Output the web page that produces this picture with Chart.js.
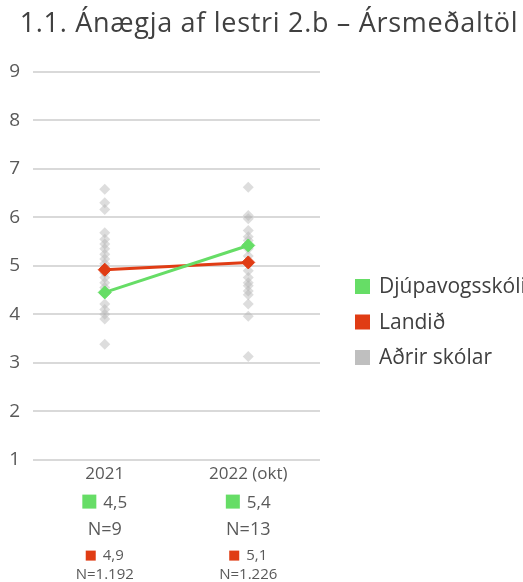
<!DOCTYPE html>
<html>
<head>
<meta charset="utf-8">
<script src="https://cdn.jsdelivr.net/npm/chart.js@4"></script>
<style>
  html, body { margin: 0; padding: 0; background: #fff; overflow: hidden; }
</style>
</head>
<body>
<canvas id="line-chart" width="523" height="582"></canvas>
<script>
const title = '1.1. Ánægja af lestri 2.b – Ársmeðaltöl';
const years = ['2021', '2022 (okt)'];
const schoolAvg = [4.45, 5.42];
const nationalAvg = [4.92, 5.07];
const others2021 = [6.58, 6.30, 6.16, 5.68, 5.55, 5.45, 5.35, 5.24, 5.14, 5.04, 4.85, 4.76, 4.65, 4.55, 4.21, 4.10, 4.00, 3.90, 3.38];
const others2022 = [6.62, 6.04, 5.97, 5.73, 5.60, 5.52, 5.35, 5.20, 4.90, 4.76, 4.65, 4.59, 4.48, 4.40, 4.21, 3.96, 3.13];
const schoolText = ['4,5', '5,4'];
const schoolN = ['N=9', 'N=13'];
const nationalText = ['4,9', '5,1'];
const nationalN = ['N=1.192', 'N=1.226'];
const seriesNames = ['Djúpavogsskóli', 'Landið', 'Aðrir skólar'];

const green = '#66dd66';
const red = '#e03c14';
const gray = '#bfbfbf';
const FONT = '"Open Sans"';

// other schools as loose points on the category axis
const otherPoints = [];
others2021.forEach(v => otherPoints.push({x: years[0], y: v}));
others2022.forEach(v => otherPoints.push({x: years[1], y: v}));

const extras = {
  id: 'extras',
  afterDraw(chart) {
    const ctx = chart.ctx;
    const xs = chart.scales.x;
    const bottom = chart.chartArea.bottom;
    ctx.save();
    ctx.textBaseline = 'alphabetic';

    // title
    ctx.font = '27px ' + FONT;
    ctx.letterSpacing = '0.7px';
    ctx.textAlign = 'center';
    ctx.fillStyle = '#404040';
    ctx.fillText(title, 269, 32);
    ctx.letterSpacing = '0px';

    function swatchRow(x, base, color, sq, gap, text, size) {
      ctx.font = size + 'px ' + FONT;
      ctx.textAlign = 'left';
      const w = sq + gap + ctx.measureText(text).width;
      const left = x - w / 2;
      ctx.fillStyle = color;
      ctx.fillRect(left, base - sq + 1, sq, sq);
      ctx.fillStyle = '#595959';
      ctx.fillText(text, left + sq + gap, base);
    }
    function centered(x, base, text, size) {
      ctx.font = size + 'px ' + FONT;
      ctx.textAlign = 'center';
      ctx.fillStyle = '#595959';
      ctx.fillText(text, x, base);
    }

    years.forEach((yr, i) => {
      const x = xs.getPixelForValue(i);
      swatchRow(x, bottom + 48, green, 14, 7, schoolText[i], 17);
      centered(x, bottom + 75, schoolN[i], 18);
      swatchRow(x, bottom + 100, red, 10, 7, nationalText[i], 15);
      centered(x, bottom + 119, nationalN[i], 15);
    });

    // legend on the right, long name runs off the edge like the original
    const colors = [green, red, gray];
    const rows = [293, 328.5, 364];
    ctx.font = '21px ' + FONT;
    ctx.textAlign = 'left';
    seriesNames.forEach((name, i) => {
      ctx.fillStyle = colors[i];
      ctx.fillRect(355, rows[i] - 14, 15, 15);
      ctx.fillStyle = '#404040';
      ctx.fillText(name, 379, rows[i]);
    });
    ctx.restore();
  }
};

const chart = new Chart(document.getElementById('line-chart'), {
  type: 'line',
  data: {
    labels: years,
    datasets: [{
      label: seriesNames[0],
      data: schoolAvg,
      borderColor: green,
      backgroundColor: green,
      borderWidth: 3,
      pointStyle: 'rectRot',
      pointRadius: 6.5,
      pointBorderWidth: 1,
      fill: false
    }, {
      label: seriesNames[1],
      data: nationalAvg,
      borderColor: red,
      backgroundColor: red,
      borderWidth: 3,
      pointStyle: 'rectRot',
      pointRadius: 6.5,
      pointBorderWidth: 1,
      fill: false
    }, {
      label: seriesNames[2],
      data: otherPoints,
      showLine: false,
      borderColor: 'rgba(0,0,0,0)',
      backgroundColor: 'rgba(180,180,180,0.45)',
      pointStyle: 'rectRot',
      pointRadius: 5.5,
      pointBorderWidth: 0
    }]
  },
  options: {
    responsive: false,
    animation: false,
    layout: { padding: { left: 0, right: 203, bottom: 94, top: 72 } },
    plugins: {
      legend: { display: false },
      tooltip: { enabled: false },
      title: { display: false }
    },
    scales: {
      x: {
        offset: true,
        grid: { display: false, drawTicks: false },
        border: { display: false },
        ticks: { color: '#595959', font: { family: 'Open Sans', size: 17 }, padding: 4 }
      },
      y: {
        min: 1,
        max: 9,
        afterFit(scale) { scale.width = 33; },
        ticks: { stepSize: 1, color: '#595959', font: { family: 'Open Sans', size: 19 }, padding: 13 },
        grid: { color: '#d9d9d9', lineWidth: 2, drawTicks: false },
        border: { display: false }
      }
    }
  },
  plugins: [extras]
});
</script>
</body>
</html>
